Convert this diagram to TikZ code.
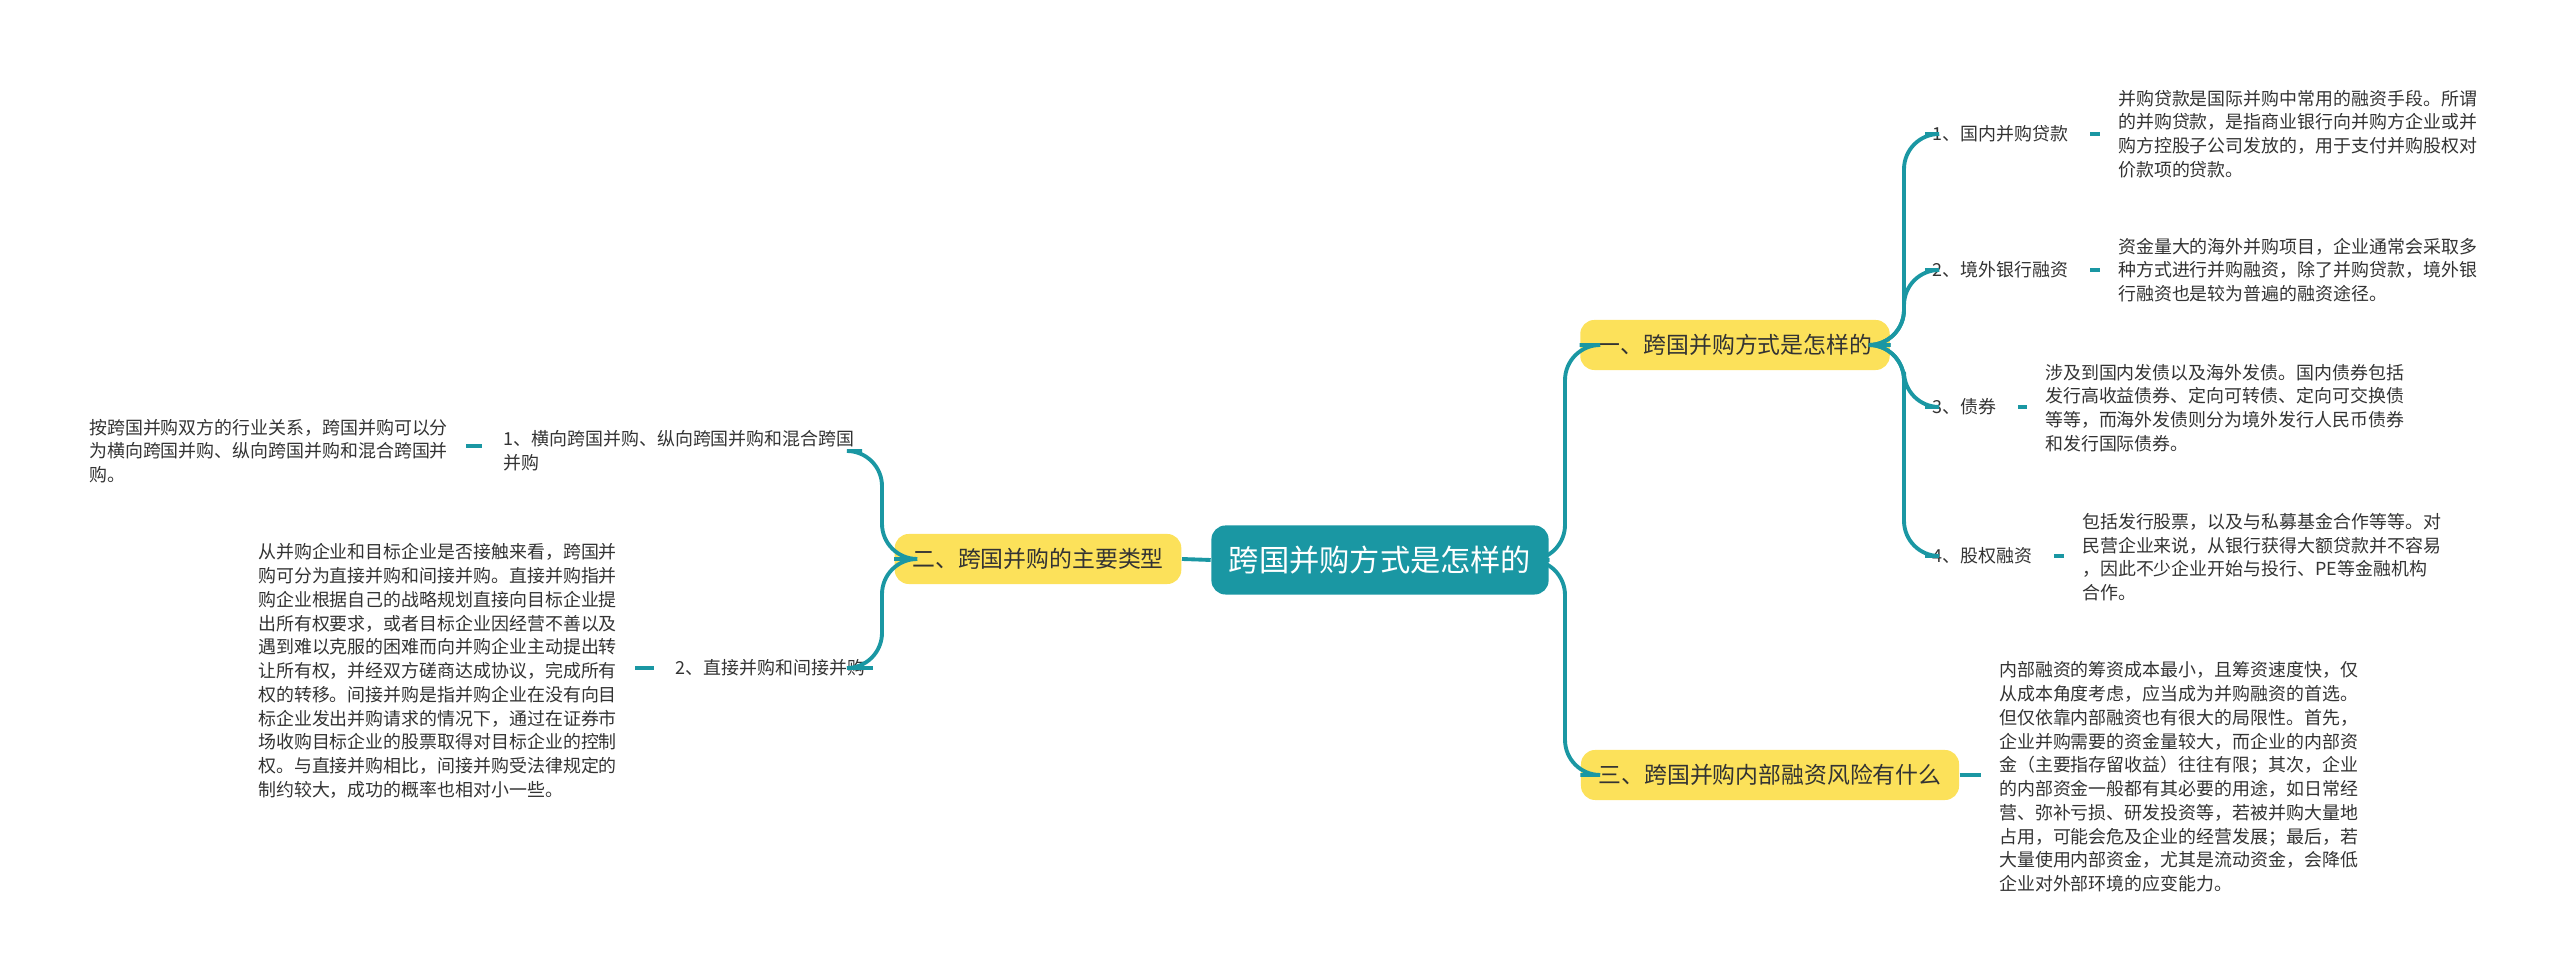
\documentclass[tikz,border=0pt]{standalone}
\usepackage{fontspec}
\setmainfont{Noto Sans CJK SC}
\definecolor{teal}{HTML}{1A97A3}
\definecolor{yel}{HTML}{FCE15A}
\definecolor{txt}{HTML}{333333}
\tikzset{
 conn/.style={draw=teal,line width=1.1pt,rounded corners=10},
 root/.style={fill=teal,text=white,rounded corners=4,font=\fontsize{8.6}{10}\selectfont,minimum width=3.37cm,minimum height=0.69cm},
 branch/.style={fill=yel,text=txt,rounded corners=4,font=\fontsize{6.5}{8}\selectfont,minimum height=0.5cm,inner xsep=5pt},
 lab/.style={text=txt,font=\fontsize{5.1}{6.75}\selectfont,align=left,inner sep=2pt},
 desc/.style={text=txt,font=\fontsize{5.1}{6.75}\selectfont,align=left,inner sep=1pt},
}
\begin{document}
\begin{tikzpicture}[x=0.01cm,y=-0.01cm]
\useasboundingbox (0,0) rectangle (2560,977);
\node[root] (r) at (1380,560) {跨国并购方式是怎样的};
\node[branch] (a) at (1735,345) {一、跨国并购方式是怎样的};
\node[branch] (b) at (1770,775) {三、跨国并购内部融资风险有什么};
\node[branch] (c) at (1038,559) {二、跨国并购的主要类型};
\draw[conn] (r.east) -- (1565,560) |- (a.west);
\draw[conn] (r.east) -- (1565,560) |- (b.west);
\draw[conn] (r.west) -- (c.east);
% A children
\node[lab,anchor=west] (a1) at (1925,134) {1、国内并购贷款};
\node[lab,anchor=west] (a2) at (1925,270) {2、境外银行融资};
\node[lab,anchor=west] (a3) at (1925,407) {3、债券};
\node[lab,anchor=west] (a4) at (1925,556) {4、股权融资};
\foreach \n in {a1,a2,a3,a4} \draw[conn] (a.east) -- (1904,345) |- (\n.west);
\node[desc,anchor=west] (d1) at (2114,134) {并购贷款是国际并购中常用的融资手段。所谓\\的并购贷款，是指商业银行向并购方企业或并\\购方控股子公司发放的，用于支付并购股权对\\价款项的贷款。};
\node[desc,anchor=west] (d2) at (2114,270) {资金量大的海外并购项目，企业通常会采取多\\种方式进行并购融资，除了并购贷款，境外银\\行融资也是较为普遍的融资途径。};
\node[desc,anchor=west] (d3) at (2041,408) {涉及到国内发债以及海外发债。国内债券包括\\发行高收益债券、定向可转债、定向可交换债\\等等，而海外发债则分为境外发行人民币债券\\和发行国际债券。};
\node[desc,anchor=west] (d4) at (2078,557) {包括发行股票，以及与私募基金合作等等。对\\民营企业来说，从银行获得大额贷款并不容易\\，因此不少企业开始与投行、PE等金融机构\\合作。};
\foreach \l/\d in {a1/d1,a2/d2,a3/d3,a4/d4} \draw[conn] ([xshift=4pt]\l.east) -- ([xshift=-4pt]\d.west |- \l.east);
% B child
\node[desc,anchor=west] (e1) at (1995,777) {内部融资的筹资成本最小，且筹资速度快，仅\\从成本角度考虑，应当成为并购融资的首选。\\但仅依靠内部融资也有很大的局限性。首先，\\企业并购需要的资金量较大，而企业的内部资\\金（主要指存留收益）往往有限；其次，企业\\的内部资金一般都有其必要的用途，如日常经\\营、弥补亏损、研发投资等，若被并购大量地\\占用，可能会危及企业的经营发展；最后，若\\大量使用内部资金，尤其是流动资金，会降低\\企业对外部环境的应变能力。};
\draw[conn] (b.east) -- ([xshift=-4pt]e1.west |- b.east);
% C children
\node[lab,anchor=west] (c1) at (496,451) {1、横向跨国并购、纵向跨国并购和混合跨国\\并购};
\node[lab,anchor=west] (c2) at (668,668) {2、直接并购和间接并购};
\draw[conn] (c.west) -- (882,559) |- (c1.east);
\draw[conn] (c.west) -- (882,559) |- (c2.east);
\node[desc,anchor=west] (f1) at (85,451) {按跨国并购双方的行业关系，跨国并购可以分\\为横向跨国并购、纵向跨国并购和混合跨国并\\购。};
\node[desc,anchor=west] (f2) at (254,671) {从并购企业和目标企业是否接触来看，跨国并\\购可分为直接并购和间接并购。直接并购指并\\购企业根据自己的战略规划直接向目标企业提\\出所有权要求，或者目标企业因经营不善以及\\遇到难以克服的困难而向并购企业主动提出转\\让所有权，并经双方磋商达成协议，完成所有\\权的转移。间接并购是指并购企业在没有向目\\标企业发出并购请求的情况下，通过在证券市\\场收购目标企业的股票取得对目标企业的控制\\权。与直接并购相比，间接并购受法律规定的\\制约较大，成功的概率也相对小一些。};
\draw[conn] ([xshift=-4pt]c1.west |- 0,446) -- ([xshift=4pt]f1.east |- 0,446);
\draw[conn] ([xshift=-4pt]c2.west) -- ([xshift=4pt]f2.east |- c2.west);
\end{tikzpicture}
\end{document}
